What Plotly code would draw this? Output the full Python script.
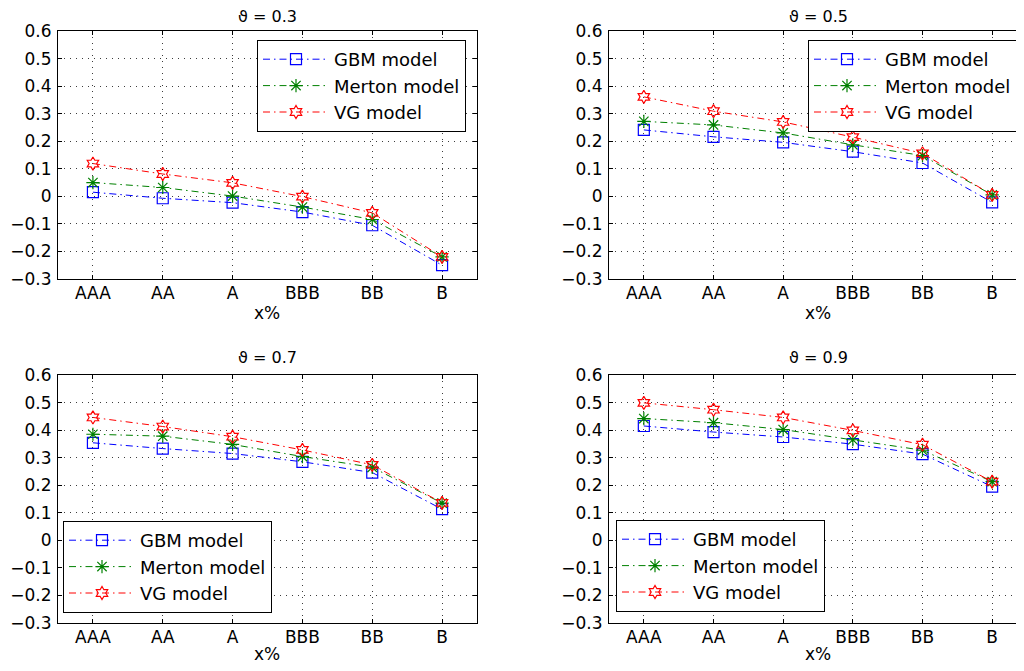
import plotly.graph_objects as go

categories = ["AAA", "AA", "A", "BBB", "BB", "B"]
thetas = ["0.3", "0.5", "0.7", "0.9"]

gbm_03 = [0.015, -0.007, -0.023, -0.057, -0.105, -0.250]
merton_03 = [0.050, 0.032, 0.001, -0.039, -0.084, -0.220]
vg_03 = [0.119, 0.081, 0.049, -0.001, -0.060, -0.220]

gbm_05 = [0.241, 0.216, 0.196, 0.162, 0.121, -0.022]
merton_05 = [0.272, 0.259, 0.230, 0.187, 0.148, 0.005]
vg_05 = [0.361, 0.309, 0.270, 0.215, 0.156, 0.005]

gbm_07 = [0.354, 0.333, 0.315, 0.285, 0.246, 0.113]
merton_07 = [0.385, 0.378, 0.348, 0.304, 0.265, 0.135]
vg_07 = [0.446, 0.413, 0.376, 0.328, 0.274, 0.136]

gbm_09 = [0.415, 0.393, 0.375, 0.349, 0.313, 0.195]
merton_09 = [0.442, 0.427, 0.402, 0.365, 0.327, 0.213]
vg_09 = [0.499, 0.474, 0.446, 0.399, 0.347, 0.213]

y_ticks = [-0.3, -0.2, -0.1, 0, 0.1, 0.2, 0.3, 0.4, 0.5, 0.6]

panels = [
    (gbm_03, merton_03, vg_03),
    (gbm_05, merton_05, vg_05),
    (gbm_07, merton_07, vg_07),
    (gbm_09, merton_09, vg_09),
]

# page body has an 8px margin; figure is placed at (8, 8) on screen
OFF = 8
W, H = 1016, 655
FONT = "DejaVu Sans"

def px_x(p):
    return (p - OFF) / W

def px_y(p):
    return 1 - (p - OFF) / H

# axis boxes in screen pixels: (left, right, top, bottom, xmax)
boxes = [
    (58, 477, 31, 279, 6.5),
    (609, 1024, 31, 279, 6.457),
    (58, 477, 375, 623, 6.5),
    (609, 1024, 375, 623, 6.457),
]

# title and x-label centre rows (screen pixels)
title_rows = [17, 17, 357, 357]
xlabel_rows = [313, 313, 654, 654]

styles = [
    ("GBM model", "rgb(0,0,255)", "square-open", 11),
    ("Merton model", "rgb(0,128,0)", "asterisk-open", 11),
    ("VG model", "rgb(255,0,0)", "hexagram-open", 10),
]

fig = go.Figure()
x_pos = list(range(1, len(categories) + 1))

for i, series in enumerate(panels):
    sfx = "" if i == 0 else str(i + 1)
    leg = "legend" if i == 0 else f"legend{i + 1}"
    for (name, color, sym, size), vals in zip(styles, series):
        fig.add_trace(go.Scatter(
            x=x_pos, y=vals, name=name, mode="lines+markers",
            xaxis="x" + sfx, yaxis="y" + sfx, legend=leg,
            line=dict(color=color, width=1, dash="7px,4px,1.5px,4px"),
            marker=dict(symbol=sym, size=size, color=color,
                        line=dict(color=color, width=1.2)),
        ))

layout = dict(
    width=W, height=H,
    margin=dict(l=0, r=0, t=0, b=0, autoexpand=False),
    paper_bgcolor="white", plot_bgcolor="white",
    font=dict(family=FONT, size=17, color="black"),
    annotations=[],
)

legend_pos = [
    (466, 40, "right"),
    (1017, 40, "right"),
    (63, 521, "left"),
    (616, 520, "left"),
]

for i, (l, r, t, b, xmax) in enumerate(boxes):
    sfx = "" if i == 0 else str(i + 1)
    axcommon = dict(
        showline=True, linecolor="black", linewidth=1, mirror="ticks",
        ticks="inside", ticklen=4, tickcolor="black",
        showgrid=True, gridcolor="rgb(60,60,60)", gridwidth=1, griddash="1px,5px",
        zeroline=False, tickfont=dict(family=FONT, size=17),
    )
    layout["xaxis" + sfx] = dict(
        axcommon, domain=[px_x(l), min(1.0, px_x(r))], range=[0.5, xmax],
        anchor="y" + sfx, tickmode="array", tickvals=x_pos, ticktext=categories,
        ticklabelstandoff=-1,
    )
    layout["yaxis" + sfx] = dict(
        axcommon, domain=[px_y(b), px_y(t)], range=[-0.3, 0.6],
        anchor="x" + sfx, tickmode="array", tickvals=y_ticks,
        ticktext=[("\u2212" + f"{abs(v):g}") if v < 0 else f"{v:g}" for v in y_ticks],
        ticklabelstandoff=2,
    )
    cx = px_x(l + 34.9 * 6)
    layout["annotations"].append(dict(
        text="\u03d1 = " + thetas[i], x=cx, y=px_y(title_rows[i]), xref="paper", yref="paper",
        showarrow=False, xanchor="center", yanchor="middle", font=dict(family=FONT, size=16),
    ))
    layout["annotations"].append(dict(
        text="x%", x=cx, y=px_y(xlabel_rows[i]), xref="paper", yref="paper",
        showarrow=False, xanchor="center", yanchor="middle", font=dict(family=FONT, size=17),
    ))
    lx, ly, anc = legend_pos[i]
    layout["legend" if i == 0 else f"legend{i + 1}"] = dict(
        x=px_x(lx), y=px_y(ly), xanchor=anc, yanchor="top",
        xref="paper", yref="paper",
        bgcolor="white", bordercolor="black", borderwidth=1,
        font=dict(family=FONT, size=18), itemwidth=66, tracegroupgap=0,
    )

fig.update_layout(**layout)
fig.write_html("out.html")
